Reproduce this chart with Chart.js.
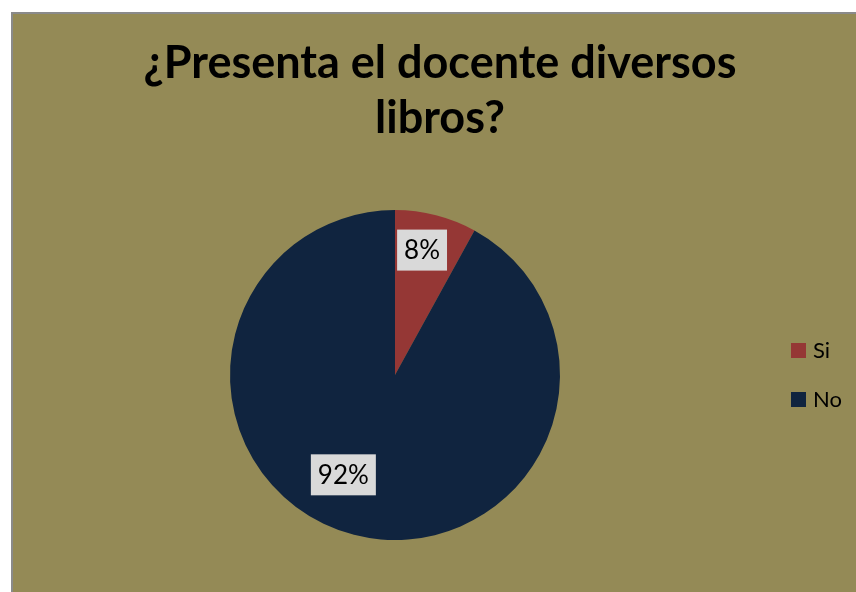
<!DOCTYPE html>
<html>
<head>
<meta charset="utf-8">
<script src="https://cdn.jsdelivr.net/npm/chart.js@4.4.0/dist/chart.umd.min.js"></script>
<style>
  html, body { margin: 0; padding: 0; background: #fff; }
  #frame {
    position: absolute; left: 11px; top: 12px; width: 845px; height: 580px;
    background: #948a56; border-left: 2px solid #8a8a8a; border-top: 2px solid #8a8a8a;
    box-sizing: border-box;
  }
  #wrap { position: absolute; left: 0; top: 0; width: 856px; height: 592px; }
</style>
</head>
<body>
<div id="frame"></div>
<div id="wrap"><canvas id="pieChart" width="856" height="592"></canvas></div>
<script>
const titleLines = ["¿Presenta el docente diversos", "libros?"];
const categories = ["Si", "No"];
const percentages = [8, 92];
const sliceColors = ["#953735", "#10243f"];

// where the value boxes sit, as fractions of the radius from the pie centre
const labelAnchors = [[0.164, -0.757], [-0.313, 0.605]];

const extras = {
  id: "extras",
  afterDatasetsDraw(chart) {
    const ctx = chart.ctx;
    const meta = chart.getDatasetMeta(0);

    // value labels
    ctx.save();
    ctx.font = "26px Lato";
    ctx.textAlign = "center";
    ctx.textBaseline = "middle";
    meta.data.forEach((arc, i) => {
      const r = arc.outerRadius;
      const cx = arc.x + labelAnchors[i][0] * r;
      const cy = arc.y + labelAnchors[i][1] * r;
      const txt = chart.data.datasets[0].data[i] + "%";
      const w = ctx.measureText(txt).width + 14;
      const h = 41;
      ctx.fillStyle = "#d9d9d9";
      ctx.fillRect(cx - w / 2, cy - h / 2, w, h);
      ctx.fillStyle = "#000";
      ctx.fillText(txt, cx, cy + 1);
    });
    ctx.restore();

    // title
    ctx.save();
    ctx.font = "bold 45px Lato";
    ctx.fillStyle = "#000";
    ctx.textAlign = "center";
    ctx.textBaseline = "alphabetic";
    titleLines.forEach((line, i) => ctx.fillText(line, 440, 78 + i * 55));
    ctx.restore();

    // legend
    ctx.save();
    ctx.font = "22px Lato";
    ctx.textBaseline = "alphabetic";
    chart.data.labels.forEach((lab, i) => {
      const y = 343 + i * 49;
      ctx.fillStyle = sliceColors[i];
      ctx.fillRect(791, y, 15, 15);
      ctx.fillStyle = "#000";
      ctx.fillText(lab, 813, y + 15);
    });
    ctx.restore();
  }
};

const ctx = document.getElementById("pieChart").getContext("2d");
new Chart(ctx, {
  type: "pie",
  data: {
    labels: categories,
    datasets: [{
      data: percentages,
      backgroundColor: sliceColors,
      borderWidth: 0
    }]
  },
  options: {
    responsive: false,
    animation: false,
    layout: { padding: { left: 230, top: 210, right: 296, bottom: 52 } },
    plugins: {
      legend: { display: false },
      tooltip: { enabled: false },
      title: { display: false }
    }
  },
  plugins: [extras]
});
</script>
</body>
</html>
